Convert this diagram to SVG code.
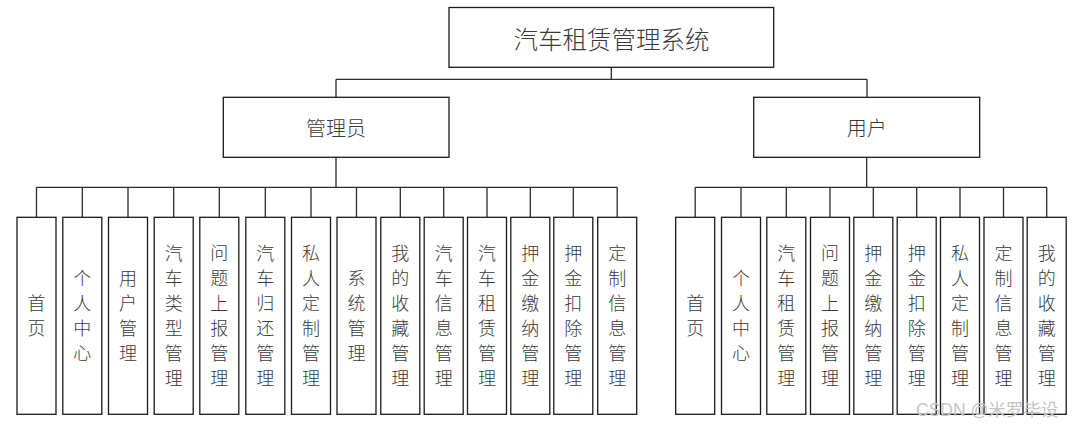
<svg xmlns="http://www.w3.org/2000/svg" width="1079" height="426" viewBox="0 0 1079 426">
<style>
.box{fill:#fff;stroke:#1a1a1a;stroke-width:1.3}
.ln{fill:none;stroke:#2a2a2a;stroke-width:1.3}
.t{font-family:"Noto Sans CJK SC","Liberation Serif",sans-serif;font-weight:300;fill:#3a3a3a;text-anchor:middle;dominant-baseline:central}
.lf{font-size:18px}
.wm{font-family:"Liberation Sans","Noto Sans CJK SC",sans-serif;font-size:17.5px;fill:#c4c4c4}
</style>
<rect width="1079" height="426" fill="#fff"/>
<g id="connectors">
<path class="ln" d="M611.3 67.3V79.3M336 79.3H867M336 79.3V97.3M867 79.3V97.3"/>
<path class="ln" d="M336 157.3V187.3M36.5 187.3H617.2M36.5 187.3V217.3M82.3 187.3V217.3M128 187.3V217.3M173.7 187.3V217.3M219.3 187.3V217.3M265.3 187.3V217.3M311 187.3V217.3M356.5 187.3V217.3M400.3 187.3V217.3M443.7 187.3V217.3M487 187.3V217.3M530.3 187.3V217.3M573.3 187.3V217.3M617.2 187.3V217.3"/>
<path class="ln" d="M866.7 157.3V187.3M695.2 187.3H1046.7M695.2 187.3V217.3M741 187.3V217.3M786.3 187.3V217.3M830 187.3V217.3M873.3 187.3V217.3M916.7 187.3V217.3M960 187.3V217.3M1003.5 187.3V217.3M1046.7 187.3V217.3"/>
</g>
<g id="root"><rect class="box" x="449" y="7.5" width="324.7" height="59.8"/><text class="t" x="611.5" y="38" font-size="24.5">汽车租赁管理系统</text></g>
<g id="admin"><rect class="box" x="223.3" y="97.3" width="225.7" height="60"/><text class="t" x="336" y="127" font-size="20">管理员</text></g>
<g id="user"><rect class="box" x="753.7" y="97.3" width="226" height="60"/><text class="t" x="866.7" y="127" font-size="20">用户</text></g>

<g id="a1"><rect class="box" x="17" y="217.3" width="39" height="197"/><text class="t lf"><tspan x="36.5" y="301.7">首</tspan><tspan x="36.5" dy="25">页</tspan></text></g>
<g id="a2"><rect class="box" x="62.8" y="217.3" width="39" height="197"/><text class="t lf"><tspan x="82.3" y="276.7">个</tspan><tspan x="82.3" dy="25">人</tspan><tspan x="82.3" dy="25">中</tspan><tspan x="82.3" dy="25">心</tspan></text></g>
<g id="a3"><rect class="box" x="108.5" y="217.3" width="39" height="197"/><text class="t lf"><tspan x="128" y="276.7">用</tspan><tspan x="128" dy="25">户</tspan><tspan x="128" dy="25">管</tspan><tspan x="128" dy="25">理</tspan></text></g>
<g id="a4"><rect class="box" x="154.2" y="217.3" width="39" height="197"/><text class="t lf"><tspan x="173.7" y="251.7">汽</tspan><tspan x="173.7" dy="25">车</tspan><tspan x="173.7" dy="25">类</tspan><tspan x="173.7" dy="25">型</tspan><tspan x="173.7" dy="25">管</tspan><tspan x="173.7" dy="25">理</tspan></text></g>
<g id="a5"><rect class="box" x="199.8" y="217.3" width="39" height="197"/><text class="t lf"><tspan x="219.3" y="251.7">问</tspan><tspan x="219.3" dy="25">题</tspan><tspan x="219.3" dy="25">上</tspan><tspan x="219.3" dy="25">报</tspan><tspan x="219.3" dy="25">管</tspan><tspan x="219.3" dy="25">理</tspan></text></g>
<g id="a6"><rect class="box" x="245.8" y="217.3" width="39" height="197"/><text class="t lf"><tspan x="265.3" y="251.7">汽</tspan><tspan x="265.3" dy="25">车</tspan><tspan x="265.3" dy="25">归</tspan><tspan x="265.3" dy="25">还</tspan><tspan x="265.3" dy="25">管</tspan><tspan x="265.3" dy="25">理</tspan></text></g>
<g id="a7"><rect class="box" x="291.5" y="217.3" width="39" height="197"/><text class="t lf"><tspan x="311" y="251.7">私</tspan><tspan x="311" dy="25">人</tspan><tspan x="311" dy="25">定</tspan><tspan x="311" dy="25">制</tspan><tspan x="311" dy="25">管</tspan><tspan x="311" dy="25">理</tspan></text></g>
<g id="a8"><rect class="box" x="337" y="217.3" width="39" height="197"/><text class="t lf"><tspan x="356.5" y="276.7">系</tspan><tspan x="356.5" dy="25">统</tspan><tspan x="356.5" dy="25">管</tspan><tspan x="356.5" dy="25">理</tspan></text></g>
<g id="a9"><rect class="box" x="380.8" y="217.3" width="39" height="197"/><text class="t lf"><tspan x="400.3" y="251.7">我</tspan><tspan x="400.3" dy="25">的</tspan><tspan x="400.3" dy="25">收</tspan><tspan x="400.3" dy="25">藏</tspan><tspan x="400.3" dy="25">管</tspan><tspan x="400.3" dy="25">理</tspan></text></g>
<g id="a10"><rect class="box" x="424.2" y="217.3" width="39" height="197"/><text class="t lf"><tspan x="443.7" y="251.7">汽</tspan><tspan x="443.7" dy="25">车</tspan><tspan x="443.7" dy="25">信</tspan><tspan x="443.7" dy="25">息</tspan><tspan x="443.7" dy="25">管</tspan><tspan x="443.7" dy="25">理</tspan></text></g>
<g id="a11"><rect class="box" x="467.5" y="217.3" width="39" height="197"/><text class="t lf"><tspan x="487" y="251.7">汽</tspan><tspan x="487" dy="25">车</tspan><tspan x="487" dy="25">租</tspan><tspan x="487" dy="25">赁</tspan><tspan x="487" dy="25">管</tspan><tspan x="487" dy="25">理</tspan></text></g>
<g id="a12"><rect class="box" x="510.8" y="217.3" width="39" height="197"/><text class="t lf"><tspan x="530.3" y="251.7">押</tspan><tspan x="530.3" dy="25">金</tspan><tspan x="530.3" dy="25">缴</tspan><tspan x="530.3" dy="25">纳</tspan><tspan x="530.3" dy="25">管</tspan><tspan x="530.3" dy="25">理</tspan></text></g>
<g id="a13"><rect class="box" x="553.8" y="217.3" width="39" height="197"/><text class="t lf"><tspan x="573.3" y="251.7">押</tspan><tspan x="573.3" dy="25">金</tspan><tspan x="573.3" dy="25">扣</tspan><tspan x="573.3" dy="25">除</tspan><tspan x="573.3" dy="25">管</tspan><tspan x="573.3" dy="25">理</tspan></text></g>
<g id="a14"><rect class="box" x="597.7" y="217.3" width="39" height="197"/><text class="t lf"><tspan x="617.2" y="251.7">定</tspan><tspan x="617.2" dy="25">制</tspan><tspan x="617.2" dy="25">信</tspan><tspan x="617.2" dy="25">息</tspan><tspan x="617.2" dy="25">管</tspan><tspan x="617.2" dy="25">理</tspan></text></g>

<g id="u1"><rect class="box" x="675.7" y="217.3" width="39" height="197"/><text class="t lf"><tspan x="695.2" y="301.7">首</tspan><tspan x="695.2" dy="25">页</tspan></text></g>
<g id="u2"><rect class="box" x="721.5" y="217.3" width="39" height="197"/><text class="t lf"><tspan x="741" y="276.7">个</tspan><tspan x="741" dy="25">人</tspan><tspan x="741" dy="25">中</tspan><tspan x="741" dy="25">心</tspan></text></g>
<g id="u3"><rect class="box" x="766.8" y="217.3" width="39" height="197"/><text class="t lf"><tspan x="786.3" y="251.7">汽</tspan><tspan x="786.3" dy="25">车</tspan><tspan x="786.3" dy="25">租</tspan><tspan x="786.3" dy="25">赁</tspan><tspan x="786.3" dy="25">管</tspan><tspan x="786.3" dy="25">理</tspan></text></g>
<g id="u4"><rect class="box" x="810.5" y="217.3" width="39" height="197"/><text class="t lf"><tspan x="830" y="251.7">问</tspan><tspan x="830" dy="25">题</tspan><tspan x="830" dy="25">上</tspan><tspan x="830" dy="25">报</tspan><tspan x="830" dy="25">管</tspan><tspan x="830" dy="25">理</tspan></text></g>
<g id="u5"><rect class="box" x="853.8" y="217.3" width="39" height="197"/><text class="t lf"><tspan x="873.3" y="251.7">押</tspan><tspan x="873.3" dy="25">金</tspan><tspan x="873.3" dy="25">缴</tspan><tspan x="873.3" dy="25">纳</tspan><tspan x="873.3" dy="25">管</tspan><tspan x="873.3" dy="25">理</tspan></text></g>
<g id="u6"><rect class="box" x="897.2" y="217.3" width="39" height="197"/><text class="t lf"><tspan x="916.7" y="251.7">押</tspan><tspan x="916.7" dy="25">金</tspan><tspan x="916.7" dy="25">扣</tspan><tspan x="916.7" dy="25">除</tspan><tspan x="916.7" dy="25">管</tspan><tspan x="916.7" dy="25">理</tspan></text></g>
<g id="u7"><rect class="box" x="940.5" y="217.3" width="39" height="197"/><text class="t lf"><tspan x="960" y="251.7">私</tspan><tspan x="960" dy="25">人</tspan><tspan x="960" dy="25">定</tspan><tspan x="960" dy="25">制</tspan><tspan x="960" dy="25">管</tspan><tspan x="960" dy="25">理</tspan></text></g>
<g id="u8"><rect class="box" x="984" y="217.3" width="39" height="197"/><text class="t lf"><tspan x="1003.5" y="251.7">定</tspan><tspan x="1003.5" dy="25">制</tspan><tspan x="1003.5" dy="25">信</tspan><tspan x="1003.5" dy="25">息</tspan><tspan x="1003.5" dy="25">管</tspan><tspan x="1003.5" dy="25">理</tspan></text></g>
<g id="u9"><rect class="box" x="1027.2" y="217.3" width="39" height="197"/><text class="t lf"><tspan x="1046.7" y="251.7">我</tspan><tspan x="1046.7" dy="25">的</tspan><tspan x="1046.7" dy="25">收</tspan><tspan x="1046.7" dy="25">藏</tspan><tspan x="1046.7" dy="25">管</tspan><tspan x="1046.7" dy="25">理</tspan></text></g>

<text class="wm" x="916" y="416">CSDN @米罗毕设</text>
</svg>
